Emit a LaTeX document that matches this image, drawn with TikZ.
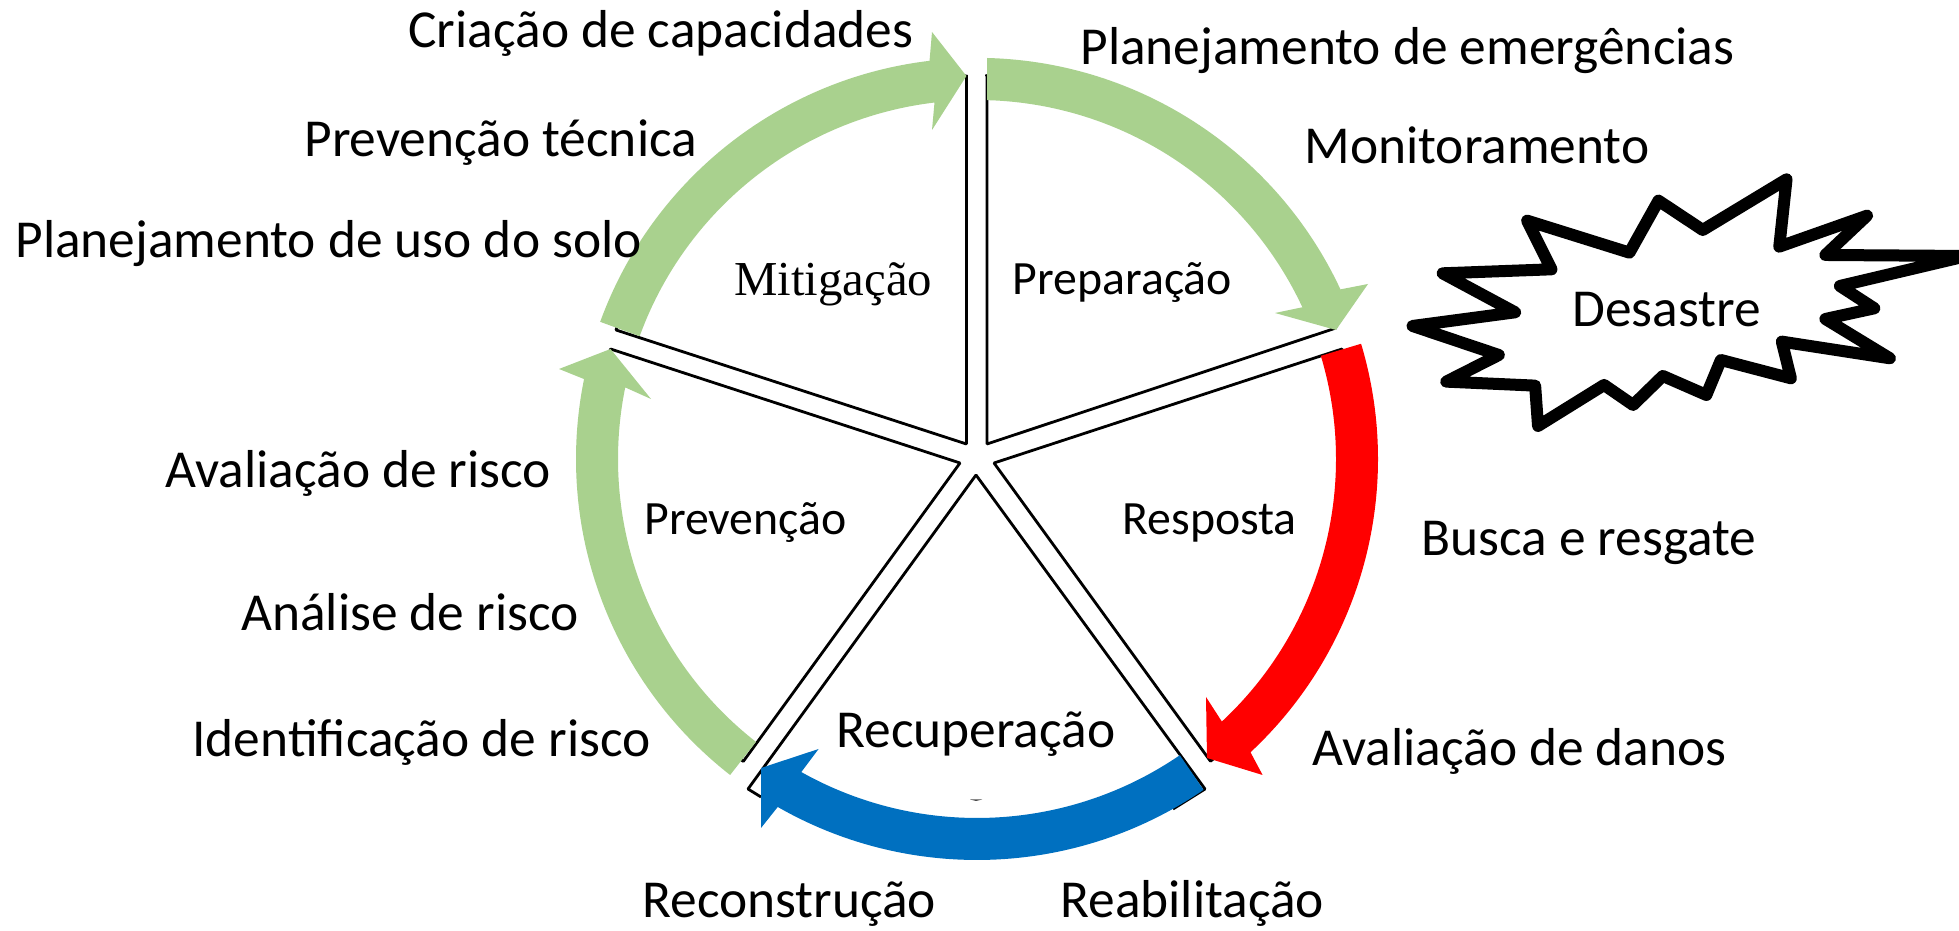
\documentclass[tikz,border=0pt]{standalone}
\usepackage{fontspec}
\setmainfont{Carlito}
\newfontfamily\serifface{Liberation Serif}
\usetikzlibrary{calc}
\definecolor{ringgreen}{HTML}{A9D18E}
\definecolor{ringblue}{HTML}{0070C0}
\definecolor{ringred}{HTML}{FF0000}
\tikzset{
  panel/.style={draw=black,line width=1.4pt,line join=bevel},
  big/.style={anchor=base west,inner sep=0pt,font=\fontsize{26.7}{32}\selectfont},
  inner/.style={anchor=base west,inner sep=0pt,font=\fontsize{23.9}{28}\selectfont},
  serifinner/.style={anchor=base west,inner sep=0pt,font=\serifface\fontsize{24.4}{28}\selectfont},
  burst/.style={draw=black,line width=6pt,line join=round,line cap=round,fill=white},
}
\begin{document}
\begin{tikzpicture}[x=0.5pt,y=0.5pt]
\useasboundingbox (0,0) rectangle (1959,931);
\fill[white] (0,0) rectangle (1959,931);
\coordinate (c) at (977,472);
% panels
\draw[panel] (966.4,856) -- (966.4,487) -- (616,601) arc[start angle=160.3,end angle=91.6,radius=383] -- cycle;
\draw[panel] (987,856) -- (987,487) -- (1336,603) arc[start angle=20,end angle=88.5,radius=383] -- cycle;
\draw[panel] (960,468) -- (610.5,582) arc[start angle=163.3,end angle=232.4,radius=382] -- cycle;
\draw[panel] (994,468) -- (1342,582) arc[start angle=16.8,end angle=-52.2,radius=382] -- cycle;
\draw[panel] (1173,122) -- (1205,142) -- (976,456) -- (748,142) -- (761,134);
% arrows
\fill[ringgreen] ($(c)+(160:401)$) arc[start angle=160,end angle=96.8,radius=401]
  -- (932,899) -- (966.4,855) -- (932,801) -- ($(c)+(96.8:359)$) arc[start angle=96.8,end angle=160,radius=359] -- cycle;
\fill[ringgreen] (987,873) arc[start angle=88.57,end angle=25,radius=401]
  -- (1368,647) -- (1336,601) -- (1275,618) -- ($(c)+(25:359)$) arc[start angle=25,end angle=88.4,radius=359] -- cycle;
\fill[ringgreen] ($(c)+(232:401)$) arc[start angle=232,end angle=168.5,radius=401]
  -- (559,562) -- (610.5,582) -- (651,532) -- ($(c)+(168.5:359)$) arc[start angle=168.5,end angle=232,radius=359] -- cycle;
\fill[ringred] ($(c)+(16.7:401)$) arc[start angle=16.7,end angle=-47,radius=401]
  -- (1262.6,156) -- (1207,173) -- (1206,234) -- ($(c)+(-47:359)$) arc[start angle=-47,end angle=16.7,radius=359] -- cycle;
\fill[ringblue] ($(c)+(-55.6:401)$) arc[start angle=-55.6,end angle=-119.8,radius=401]
  -- (761,103) -- (761,163) -- (818.6,182) -- ($(c)+(-119.3:359)$) arc[start angle=-119.3,end angle=-55.6,radius=359] -- cycle;
\fill[black!70] (970,131.5) -- (982,131.5) -- (976,130) -- cycle;
% burst
\begin{scope}[shift={(1390,781)},xscale=0.3628,yscale=-0.3333]
\draw[burst] (62,528) -- (345,487) -- (145,370) -- (445,358) -- (378,212) -- (660,308) -- (740,152) -- (862,240) -- (1093,88) -- (1073,290) -- (1315,197) -- (1200,315) -- (1590,318) -- (1240,408) -- (1335,475) -- (1200,507) -- (1378,625) -- (1080,575) -- (1105,685) -- (912,630) -- (872,735) -- (752,678) -- (670,765) -- (590,705) -- (408,828) -- (400,707) -- (155,695) -- (300,615) -- cycle;
\end{scope}
% labels
\node[big] (a1) at (408,883) {Criação de capacidades};
\node[big] (a2) at (304,774) {Prevenção técnica};
\node[big] (a3) at (15,673) {Planejamento de uso do solo};
\node[big] (a4) at (165,443) {Avaliação de risco};
\node[big] (a5) at (241,300) {Análise de risco};
\node[big] (a6) at (192,174) {Identificação de risco};
\node[big] (a7) at (642,13) {Reconstrução};
\node[big] (a8) at (1060,13) {Reabilitação};
\node[big] (a9) at (1312,165) {Avaliação de danos};
\node[big] (a10) at (1421,375) {Busca e resgate};
\node[big] (a11) at (1304,767) {Monitoramento};
\node[big] (a12) at (1080,866) {Planejamento de emergências};
\node[inner] (p1) at (1012.5,636) {Preparação};
\node[serifinner] (p2) at (734,635) {Mitigação};
\node[inner] (p3) at (644,396) {Prevenção};
\node[inner] (p4) at (1122,396) {Resposta};
\node[big] (p5) at (836,183) {Recuperação};
\node[big] (p6) at (1572,604) {Desastre};
\end{tikzpicture}
\end{document}
